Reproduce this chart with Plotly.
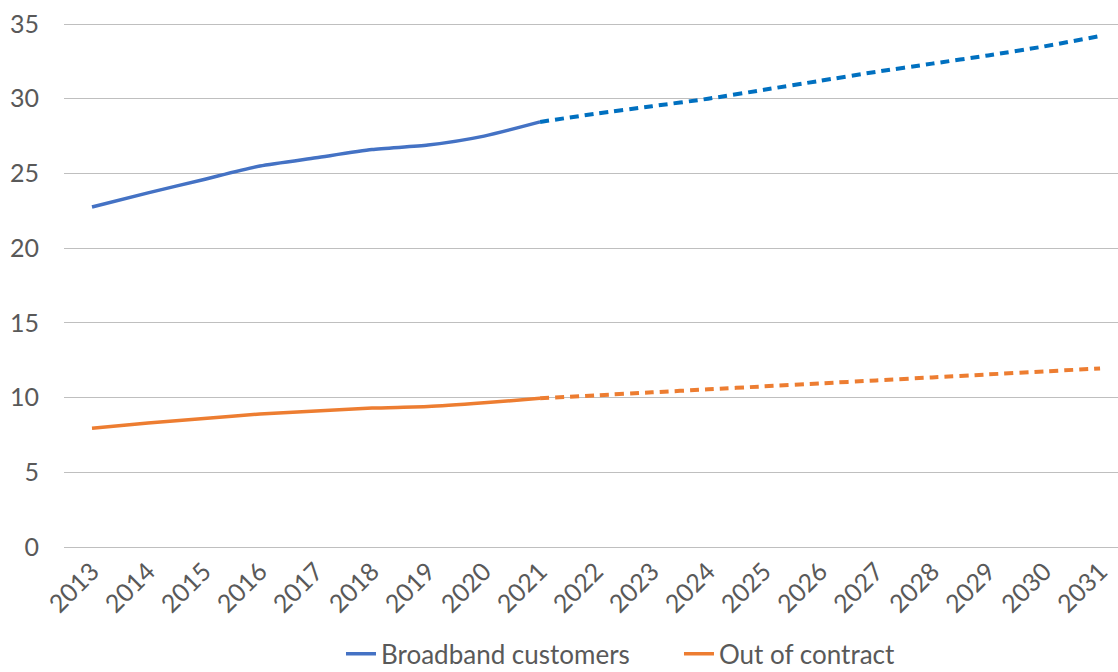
import plotly.graph_objects as go

# Years on the category axis
years = list(range(2013, 2032))
actual_years = list(range(2013, 2022))
forecast_years = list(range(2021, 2032))

# Broadband customers (millions): actual and projected
broadband_actual = [22.75, 23.7, 24.6, 25.5, 26.05, 26.6, 26.9, 27.5, 28.45]
broadband_forecast = [28.45, 29.0, 29.5, 30.0, 30.6, 31.2, 31.8, 32.35, 32.9, 33.5, 34.2]

# Customers out of contract (millions): actual and projected
ooc_actual = [7.95, 8.3, 8.6, 8.9, 9.1, 9.3, 9.4, 9.65, 9.95]
ooc_forecast = [9.95, 10.15, 10.35, 10.55, 10.75, 10.95, 11.15, 11.35, 11.55, 11.75, 11.95]

y_ticks = [0, 5, 10, 15, 20, 25, 30, 35]

FONT = "Lato, Calibri, 'Noto Sans', sans-serif"
TEXT = "#595959"
BLUE = "#4472C4"
BLUE_DASH = "#0070C0"
ORANGE = "#ED7D31"

fig = go.Figure()

fig.add_trace(go.Scatter(
    x=actual_years, y=broadband_actual, mode="lines",
    name="Broadband customers",
    line=dict(color=BLUE, width=3.5, shape="spline", smoothing=0.6),
))
fig.add_trace(go.Scatter(
    x=forecast_years, y=broadband_forecast, mode="lines",
    showlegend=False,
    line=dict(color=BLUE_DASH, width=4, dash="9px,6px", shape="spline", smoothing=0.6),
))
fig.add_trace(go.Scatter(
    x=actual_years, y=ooc_actual, mode="lines",
    name="Out of contract",
    line=dict(color=ORANGE, width=3.5, shape="spline", smoothing=0.6),
))
fig.add_trace(go.Scatter(
    x=forecast_years, y=ooc_forecast, mode="lines",
    showlegend=False,
    line=dict(color=ORANGE, width=4, dash="9px,6px", shape="spline", smoothing=0.6),
))

fig.update_layout(
    width=1118, height=672,
    margin=dict(l=64, r=0, t=20, b=125, autoexpand=False),
    paper_bgcolor="white", plot_bgcolor="white",
    font=dict(family=FONT, size=25, color=TEXT),
    showlegend=True,
    legend=dict(
        orientation="h", x=0.305, xanchor="left",
        xref="container", yref="container",
        y=0.027, yanchor="middle",
        font=dict(family=FONT, size=26, color=TEXT),
        itemwidth=30, tracegroupgap=0,
        entrywidth=293, entrywidthmode="pixels",
    ),
    xaxis=dict(
        tickmode="array", tickvals=years, ticktext=[str(y) for y in years],
        range=[2012.5, 2031.32], automargin=False,
        tickangle=-45, showgrid=False, zeroline=False, showline=False,
        ticks="", ticklabelstandoff=4,
        tickfont=dict(family=FONT, size=25, color=TEXT),
    ),
    yaxis=dict(
        tickmode="array", tickvals=y_ticks,
        range=[0, 35.27], automargin=False,
        showgrid=True, gridcolor="#BFBFBF", gridwidth=1.4,
        zeroline=True, zerolinecolor="#BFBFBF", zerolinewidth=1.4,
        showline=False, ticks="", ticklabelstandoff=24,
        tickfont=dict(family=FONT, size=25, color=TEXT),
    ),
)

fig.write_html("out.html")
